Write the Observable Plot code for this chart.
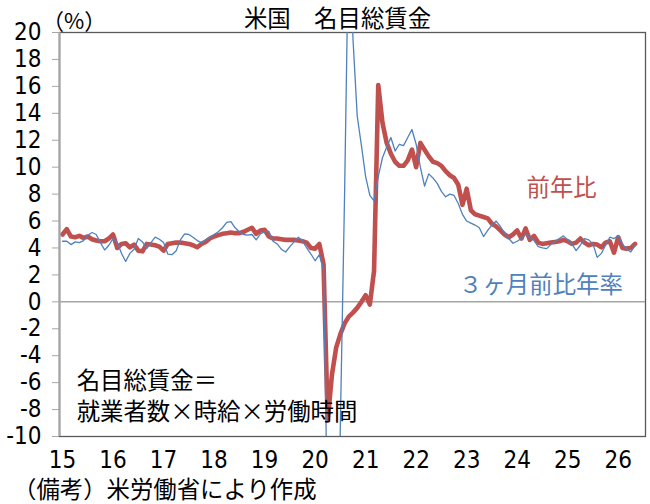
<!DOCTYPE html>
<html><head><meta charset="utf-8">
<script src="https://cdn.jsdelivr.net/npm/d3@7"></script>
<script src="https://cdn.jsdelivr.net/npm/@observablehq/plot@0.6"></script>
<style>
body{margin:0;background:#fff;}
#wrap{position:relative;width:650px;height:504px;font-family:'Noto Sans CJK JP',sans-serif;color:#000;}
#wrap svg{position:absolute;left:0;top:0;}
.lbl{position:absolute;white-space:nowrap;line-height:1.1;}
</style></head><body>
<div id="wrap"></div>
<script>
// ---- data ----
const startYear = 2015; // first month: Jan 2015, monthly
const yoy = [
  5.0, 5.4, 4.85, 4.8, 4.9, 4.75, 4.85, 4.65, 4.55, 4.5, 4.5, 4.7,
  5.0, 4.0, 4.3, 4.35, 4.05, 4.25, 3.8, 3.75, 4.3, 4.25, 4.2, 4.1,
  3.8, 4.3, 4.35, 4.4, 4.4, 4.35, 4.3, 4.2, 4.05, 4.3, 4.45, 4.7,
  4.85, 4.95, 5.05, 5.1, 5.15, 5.1, 5.1, 5.2, 5.35, 5.5, 5.05, 5.3,
  5.35, 4.85, 4.7, 4.7, 4.65, 4.6, 4.6, 4.6, 4.55, 4.5, 4.4, 4.0,
  3.95, 4.3, 2.8, -8.8, -5.4, -3.4, -2.4, -1.6, -1.1, -0.8, -0.45, 0.0,
  0.5, -0.2, 2.3, 16.1, 13.3, 11.8, 11.0, 10.4, 10.1, 10.1, 10.5, 11.3,
  10.0, 11.8, 11.3, 10.8, 10.4, 10.3, 10.1, 9.7, 9.4, 9.2, 8.7, 7.2,
  8.4, 6.8, 6.5, 6.4, 6.3, 6.2, 5.8, 5.6, 5.3, 5.0, 4.8, 5.0,
  5.3, 4.7, 5.45, 4.6, 4.9, 4.4, 4.3, 4.35, 4.4, 4.45, 4.5, 4.6,
  4.5, 4.3, 4.4, 4.7, 4.4, 4.2, 4.3, 4.25, 4.05, 4.4, 4.5, 3.65,
  4.8, 4.0, 3.95, 4.0, 4.3
];
const ann3m = [
  4.5, 4.5, 4.25, 4.45, 4.4, 4.55, 4.95, 5.15, 5.0, 4.4, 3.85, 4.2,
  4.7, 4.4, 3.6, 3.0, 3.6, 3.9, 4.7, 4.45, 3.95, 4.4, 4.8, 4.65,
  4.4, 3.55, 3.5, 3.8, 4.6, 5.05, 5.0, 4.8, 4.55, 4.4, 4.6, 4.8,
  5.0, 5.2, 5.5, 5.9, 5.95, 5.5, 5.2, 5.0, 4.95, 5.0, 4.6, 5.05,
  5.2, 5.25, 4.5, 4.3, 3.9, 3.7, 4.1, 4.45, 4.8, 4.55, 4.0, 3.55,
  3.05, 3.5, 2.4, -17, -35, -30, -9, 8, 28, 19.5, 13.8, 11.6,
  9.3, 7.9, 7.5, 9.3, 10.7, 11.5, 12.2, 11.2, 11.7, 11.6, 12.2, 12.8,
  11.7, 10.0, 8.6, 9.5, 9.2, 8.8, 8.2, 7.8, 8.0, 7.9, 7.3, 6.5,
  6.0, 5.85, 5.7, 5.5, 4.85, 5.3, 5.7, 6.0, 5.6, 5.1, 4.7, 4.35,
  4.5, 4.7, 5.0, 4.8, 4.55, 4.1, 4.0, 3.95, 4.25, 4.5, 4.7, 4.9,
  4.6, 4.3, 3.8, 4.2, 4.7, 4.6, 4.3, 3.3, 3.6, 4.2, 4.8, 4.7,
  4.9, 4.3, 3.9, 3.7, 4.2
];
const seriesNames = ["前年比", "３ヶ月前比年率"];
const xTickYears = [2015, 2016, 2017, 2018, 2019, 2020, 2021, 2022, 2023, 2024, 2025, 2026];
const yTickValues = [-10, -8, -6, -4, -2, 0, 2, 4, 6, 8, 10, 12, 14, 16, 18, 20];
const titleText = "米国　名目総賃金";
const unitText = "（%）";
const noteLines = ["名目総賃金＝", "就業者数×時給×労働時間"];
const sourceText = "（備考）米労働省により作成";

// ---- build ----
const toRows = (vals, s) => vals.map((v, i) => ({t: startYear + i / 12, v, s}));
const redRows = toRows(yoy, seriesNames[0]);
const blueRows = toRows(ann3m, seriesNames[1]);
const xDomain = [2014.94, 2026.54];
const FONT = "'Noto Sans CJK JP', sans-serif";
const NUMFONT = "'Liberation Sans Narrow', 'DejaVu Sans Condensed', 'Noto Sans CJK JP', sans-serif";
const RED = "#C0504D", BLUE = "#4F81BD";
const JP_SIZE = 23.4;

const seriesLabels = [
  {t: 2024.88, v: 8.4, text: seriesNames[0], c: RED},
  {t: 2024.47, v: 1.25, text: seriesNames[1], c: BLUE}
];
const noteSpecs = [
  {t: 2015.28, v: -5.95, text: noteLines[0]},
  {t: 2015.28, v: -8.2, text: noteLines[1]}
];

const chart = Plot.plot({
  width: 650, height: 504,
  marginTop: 32, marginBottom: 68, marginLeft: 59, marginRight: 5,
  style: {fontFamily: NUMFONT, fontSize: "24px", background: "transparent", color: "#000"},
  x: {domain: xDomain, label: null},
  y: {domain: [-10, 20], label: null},
  marks: [
    Plot.frame({stroke: "#595959", strokeWidth: 1.3}),
    Plot.ruleY([0], {stroke: "#a6a6a6", strokeWidth: 1.5}),
    Plot.line(redRows, {x: "t", y: "v", stroke: RED, strokeWidth: 4.6, clip: true}),
    Plot.line(blueRows, {x: "t", y: "v", stroke: BLUE, strokeWidth: 1.3, clip: true}),
    Plot.ruleX([xDomain[0]], {stroke: "#a6a6a6", strokeWidth: 2.2}),
    Plot.axisY({ticks: yTickValues, tickSize: 7, tickPadding: 11, stroke: "#a6a6a6", fill: "#000",
      fontSize: 24, fontFamily: NUMFONT, tickFormat: d => String(d), label: null}),
    Plot.axisX({ticks: xTickYears, tickSize: 0, tickPadding: 14, fill: "#000", fontSize: 24,
      fontFamily: NUMFONT, tickFormat: d => String(d).slice(2), label: null}),
    Plot.text(seriesLabels, {x: "t", y: "v", text: "text", fill: "c", textAnchor: "middle",
      fontSize: JP_SIZE, fontFamily: FONT}),
    Plot.text(noteSpecs, {x: "t", y: "v", text: "text", fill: "#000", textAnchor: "start",
      fontSize: JP_SIZE, fontFamily: FONT})
  ]
});
const wrap = document.getElementById("wrap");
wrap.appendChild(chart);

function addLabel(text, css) {
  const d = document.createElement("div");
  d.className = "lbl";
  d.textContent = text;
  Object.assign(d.style, css);
  wrap.appendChild(d);
}
addLabel(titleText, {left: "0px", width: "675px", textAlign: "center", top: "5px", fontSize: JP_SIZE + "px"});
addLabel(unitText, {left: "42px", top: "7px", fontSize: "22px"});
addLabel(sourceText, {left: "13px", top: "476px", fontSize: JP_SIZE + "px"});
</script>
</body></html>
